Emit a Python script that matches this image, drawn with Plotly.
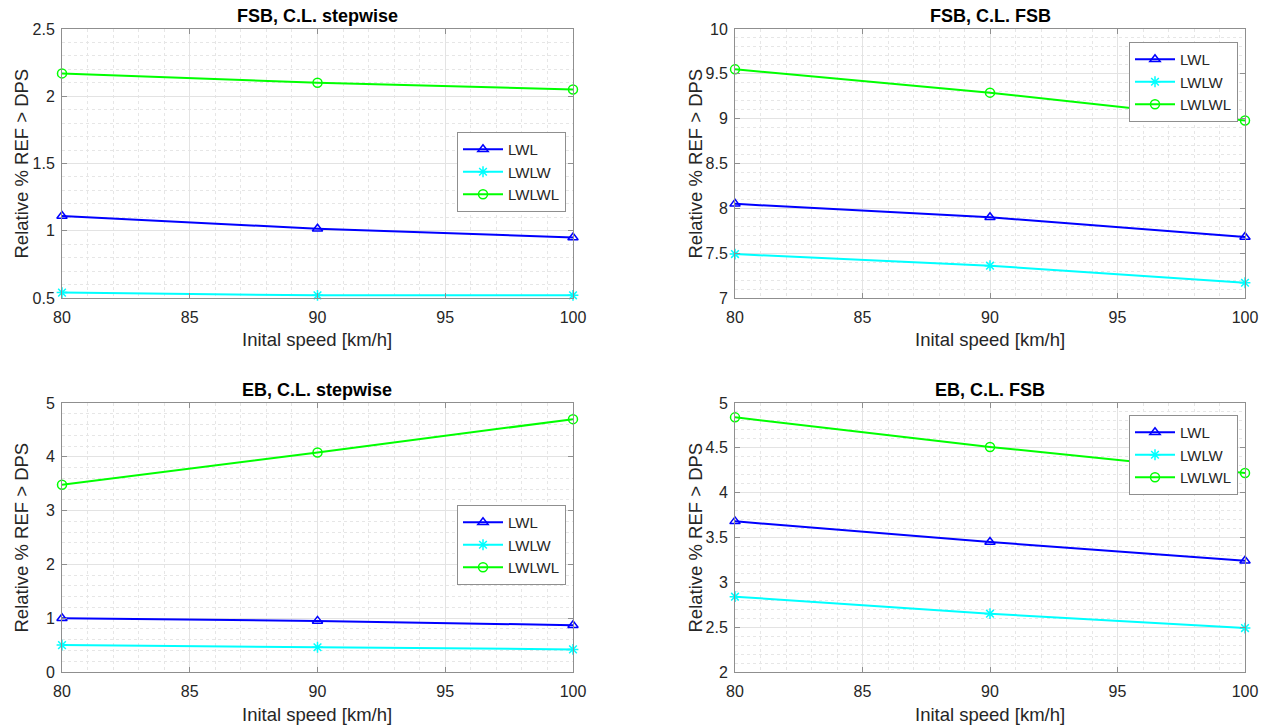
import plotly.graph_objects as go

speed = [80, 90, 100]
series_names = ["LWL", "LWLW", "LWLWL"]

fsb_stepwise_lwl = [1.11, 1.015, 0.95]
fsb_stepwise_lwlw = [0.54, 0.52, 0.52]
fsb_stepwise_lwlwl = [2.17, 2.10, 2.05]

fsb_fsb_lwl = [8.05, 7.90, 7.68]
fsb_fsb_lwlw = [7.49, 7.36, 7.17]
fsb_fsb_lwlwl = [9.55, 9.29, 8.98]

eb_stepwise_lwl = [1.00, 0.95, 0.87]
eb_stepwise_lwlw = [0.50, 0.46, 0.42]
eb_stepwise_lwlwl = [3.48, 4.08, 4.70]

eb_fsb_lwl = [3.68, 3.45, 3.24]
eb_fsb_lwlw = [2.84, 2.65, 2.49]
eb_fsb_lwlwl = [4.84, 4.51, 4.22]

titles = ["FSB, C.L. stepwise", "FSB, C.L. FSB", "EB, C.L. stepwise", "EB, C.L. FSB"]
panels = [
    (fsb_stepwise_lwl, fsb_stepwise_lwlw, fsb_stepwise_lwlwl),
    (fsb_fsb_lwl, fsb_fsb_lwlw, fsb_fsb_lwlwl),
    (eb_stepwise_lwl, eb_stepwise_lwlw, eb_stepwise_lwlwl),
    (eb_fsb_lwl, eb_fsb_lwlw, eb_fsb_lwlwl),
]
y_ranges = [(0.5, 2.5), (7, 10), (0, 5), (2, 5)]
y_dticks = [0.5, 0.5, 1, 0.5]
y_minor = [0.1, 0.1, 0.2, 0.1]
x_label = "Inital speed [km/h]"
y_label = "Relative % REF > DPS"

W, H = 1269, 727
FONT = "Liberation Sans, Arial, Helvetica, sans-serif"
TXT = "#262626"
colors = ["#0000ff", "#00ffff", "#00ff00"]
symbols = ["triangle-up-open", "asterisk-open", "circle-open"]


def px(x):
    return x / W


def py(y):
    return (H - y) / H


# screen-pixel boxes of plot areas: (left, right, top, bottom)
boxes = [(62, 573, 29, 298), (735, 1245, 29, 298), (62, 573, 403, 672), (735, 1245, 403, 672)]
legend_pos = [(457, 132), (1129, 42), (457, 505), (1129, 415)]
ylabel_x = [21, 695, 21, 695]

fig = go.Figure()
annotations = []
layout = {}
for i, (vals, box) in enumerate(zip(panels, boxes)):
    n = i + 1
    xa = "x" if n == 1 else f"x{n}"
    ya = "y" if n == 1 else f"y{n}"
    lg = "legend" if n == 1 else f"legend{n}"
    for name, v, c, s in zip(series_names, vals, colors, symbols):
        fig.add_trace(go.Scatter(
            x=speed, y=v, name=name, mode="lines+markers",
            line=dict(color=c, width=2),
            marker=dict(symbol=s, size=9, color=c, line=dict(color=c, width=1.5)),
            xaxis=xa, yaxis=ya, legend=lg, cliponaxis=False,
        ))
    l, r, t, b = box
    xdom = [px(l), px(r)]
    ydom = [py(b), py(t)]
    axis_common = dict(
        showline=True, linecolor="#8f8f8f", linewidth=1, mirror="ticks",
        ticks="inside", ticklen=5, tickcolor="#8f8f8f", automargin=False,
        showgrid=True, gridcolor="#e3e3e3", gridwidth=1, zeroline=False,
        tickfont=dict(family=FONT, size=16, color=TXT),
    )
    layout["xaxis" if n == 1 else f"xaxis{n}"] = dict(
        axis_common, domain=xdom, anchor=ya, range=[80, 100], dtick=5, tick0=80,
        ticklabelstandoff=5,
        minor=dict(dtick=1, showgrid=True, gridcolor="#e6e6e6", griddash="dot", ticks=""),
    )
    layout["yaxis" if n == 1 else f"yaxis{n}"] = dict(
        axis_common, domain=ydom, anchor=xa, range=list(y_ranges[i]), dtick=y_dticks[i],
        tick0=0, ticklabelstandoff=3,
        minor=dict(dtick=y_minor[i], showgrid=True, gridcolor="#e6e6e6", griddash="dot", ticks=""),
    )
    lx, ly = legend_pos[i]
    layout[lg] = dict(
        x=px(lx), y=py(ly), xanchor="left", yanchor="top",
        bgcolor="white", bordercolor="#8f8f8f", borderwidth=1,
        font=dict(family=FONT, size=15, color=TXT),
        itemwidth=40, tracegroupgap=0,
    )
    annotations.append(dict(
        text=f"<b>{titles[i]}</b>", x=px((l + r) / 2), y=py(t - 13),
        xref="paper", yref="paper", xanchor="center", yanchor="middle",
        showarrow=False, font=dict(family=FONT, size=18, color="#000000"),
    ))
    annotations.append(dict(
        text=x_label, x=px((l + r) / 2), y=py(b + 42),
        xref="paper", yref="paper", xanchor="center", yanchor="middle",
        showarrow=False, font=dict(family=FONT, size=18.5, color=TXT),
    ))
    annotations.append(dict(
        text=y_label, x=px(ylabel_x[i]), y=py((t + b) / 2),
        xref="paper", yref="paper", xanchor="center", yanchor="middle",
        textangle=-90, showarrow=False, font=dict(family=FONT, size=18.5, color=TXT),
    ))

fig.update_layout(
    width=W, height=H, margin=dict(l=0, r=0, t=0, b=0),
    paper_bgcolor="white", plot_bgcolor="white",
    annotations=annotations, **layout,
)
fig.write_html(
    "out.html",
    config={"displayModeBar": False},
    post_script="document.body.style.margin='0';document.body.style.overflow='hidden';",
)
